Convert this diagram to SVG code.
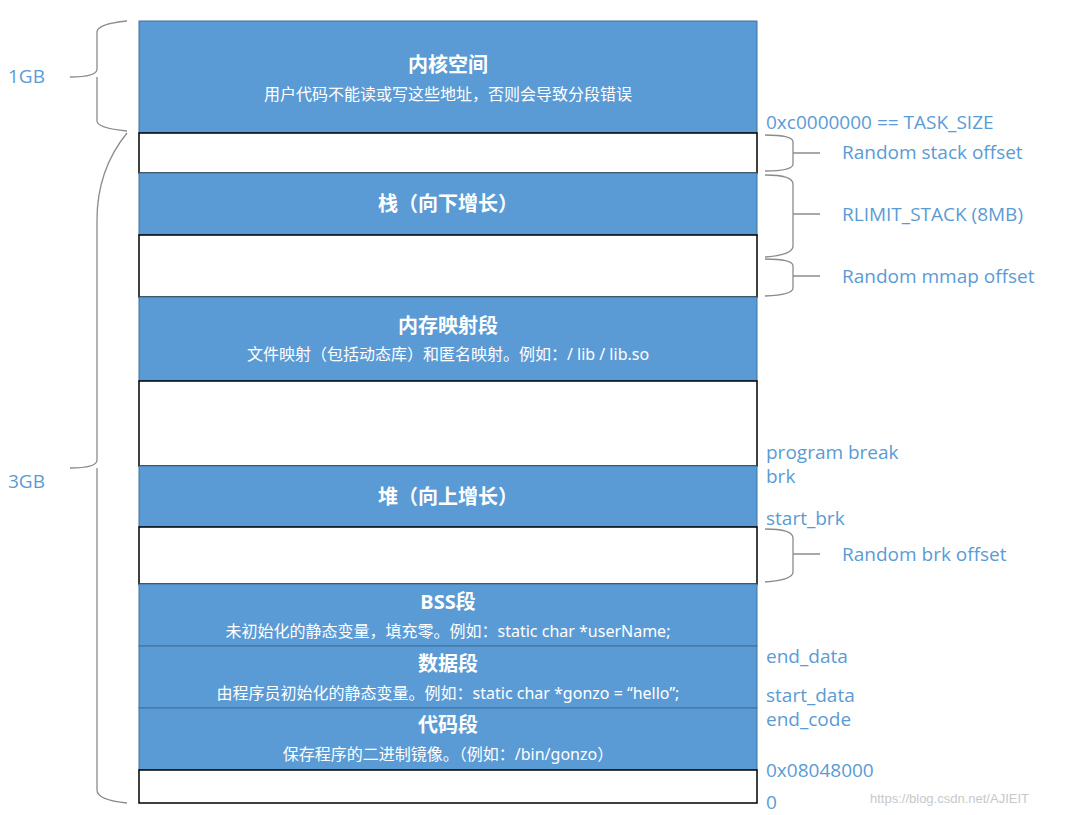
<svg xmlns="http://www.w3.org/2000/svg" width="1072" height="815" viewBox="0 0 1072 815">
<style>
.b{fill:#5B9BD5;stroke:#41719C;stroke-width:1}
.w{fill:#fff;stroke:#000;stroke-width:1.5}
.t{font-family:"Noto Sans","Noto Sans CJK SC",sans-serif;fill:#fff;text-anchor:middle}
.h{font-size:20px;font-weight:bold}
.s{font-size:16px}
.l{font-family:"Open Sans","Noto Sans",sans-serif;font-size:19px;fill:#5B9BD5}
.br{fill:none;stroke:#8c8c8c;stroke-width:1.3}
</style>
<rect width="1072" height="815" fill="#fff"/>
<g id="kernel"><rect class="b" x="139" y="21" width="618" height="112"/><text class="t h" x="448" y="72">内核空间</text><text class="t s" x="448" y="100">用户代码不能读或写这些地址，否则会导致分段错误</text></g>
<g id="gap1"><rect class="w" x="139" y="133" width="618" height="40"/></g>
<g id="stack"><rect class="b" x="139" y="173" width="618" height="62"/><text class="t h" x="448" y="211">栈（向下增长）</text></g>
<g id="gap2"><rect class="w" x="139" y="235" width="618" height="62"/></g>
<g id="mmap"><rect class="b" x="139" y="297" width="618" height="84"/><text class="t h" x="448" y="333">内存映射段</text><text class="t s" x="448" y="360">文件映射（包括动态库）和匿名映射。例如：/ lib / lib.so</text></g>
<g id="gap3"><rect class="w" x="139" y="381" width="618" height="85"/></g>
<g id="heap"><rect class="b" x="139" y="466" width="618" height="61"/><text class="t h" x="448" y="504">堆（向上增长）</text></g>
<g id="gap4"><rect class="w" x="139" y="527" width="618" height="57"/></g>
<g id="bss"><rect class="b" x="139" y="584" width="618" height="62"/><text class="t h" x="448" y="609">BSS段</text><text class="t s" x="448" y="637">未初始化的静态变量，填充零。例如：static char *userName;</text></g>
<g id="data"><rect class="b" x="139" y="646" width="618" height="62"/><text class="t h" x="448" y="671">数据段</text><text class="t s" x="448" y="699">由程序员初始化的静态变量。例如：static char *gonzo = “hello”;</text></g>
<g id="code"><rect class="b" x="139" y="708" width="618" height="62"/><text class="t h" x="448" y="732">代码段</text><text class="t s" x="448" y="760">保存程序的二进制镜像。（例如：/bin/gonzo）</text></g>
<g id="gap5"><rect class="w" x="139" y="770" width="618" height="33"/></g>
<g id="connectors">
<path class="br" d="M127,21 Q97,24 97,32 L97,69 Q97,77 70,77 M97,77 L97,121 Q97,128 127,131"/>
<path class="br" d="M127,133 Q97,170 97,220 L97,460 Q97,468 70,468 M97,468 L97,790 Q97,800 127,803"/>
<path class="br" d="M765,135 Q793,135 793,142 L793,153 L820,153 M793,153 L793,164 Q793,171 765,171"/>
<path class="br" d="M765,175 Q793,175 793,184 L793,214 L820,214 M793,214 L793,246 Q793,255 765,257"/>
<path class="br" d="M765,259 Q793,259 793,266 L793,276 L820,276 M793,276 L793,288 Q793,295 765,296"/>
<path class="br" d="M765,529 Q793,529 793,538 L793,554 L820,554 M793,554 L793,572 Q793,580 765,582"/>
</g>
<g id="labels">
<text class="l" x="8" y="83">1GB</text>
<text class="l" x="8" y="488">3GB</text>
<text class="l" x="766" y="129">0xc0000000 == TASK_SIZE</text>
<text class="l" x="842" y="159">Random stack offset</text>
<text class="l" x="842" y="221">RLIMIT_STACK (8MB)</text>
<text class="l" x="842" y="283">Random mmap offset</text>
<text class="l" x="766" y="459">program break</text>
<text class="l" x="766" y="483">brk</text>
<text class="l" x="766" y="525">start_brk</text>
<text class="l" x="842" y="561">Random brk offset</text>
<text class="l" x="766" y="663">end_data</text>
<text class="l" x="766" y="702">start_data</text>
<text class="l" x="766" y="726">end_code</text>
<text class="l" x="766" y="777">0x08048000</text>
<text class="l" x="766" y="809">0</text>
<text x="870" y="803" font-family="Liberation Sans,sans-serif" font-size="13" fill="#c8c8c8">https://blog.csdn.net/AJIEIT</text>
</g>
</svg>
